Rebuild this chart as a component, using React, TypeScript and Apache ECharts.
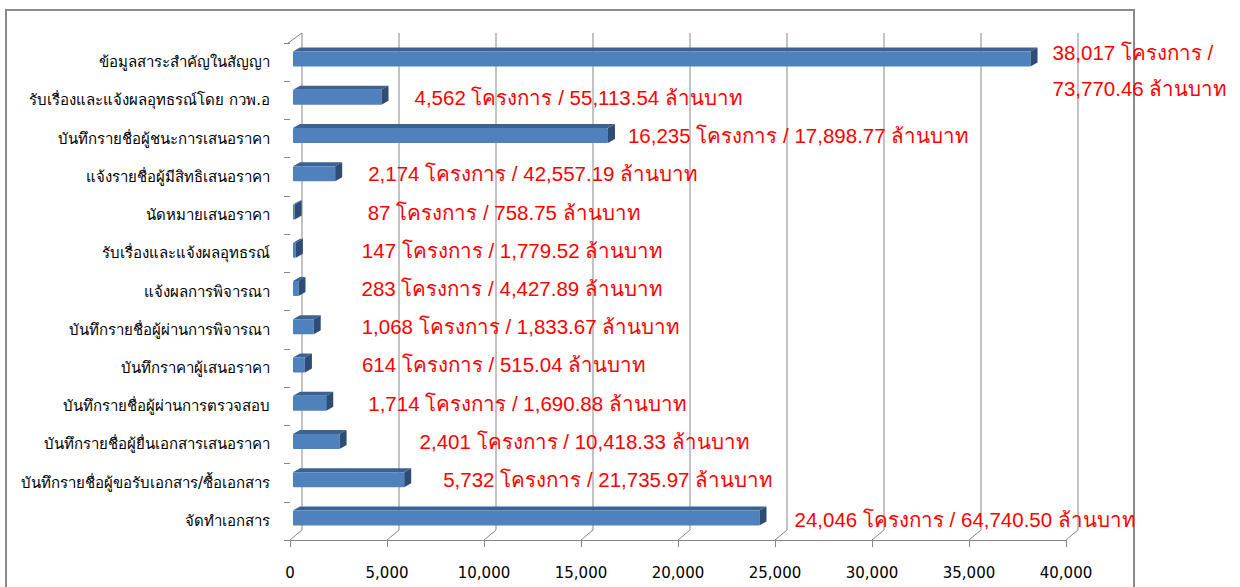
import React, { useEffect, useRef } from "react";
import * as echarts from "echarts";

const categories = [
  "ข้อมูลสาระสำคัญในสัญญา",
  "รับเรื่องและแจ้งผลอุทธรณ์โดย กวพ.อ",
  "บันทึกรายชื่อผู้ชนะการเสนอราคา",
  "แจ้งรายชื่อผู้มีสิทธิเสนอราคา",
  "นัดหมายเสนอราคา",
  "รับเรื่องและแจ้งผลอุทธรณ์",
  "แจ้งผลการพิจารณา",
  "บันทึกรายชื่อผู้ผ่านการพิจารณา",
  "บันทึกราคาผู้เสนอราคา",
  "บันทึกรายชื่อผู้ผ่านการตรวจสอบ",
  "บันทึกรายชื่อผู้ยื่นเอกสารเสนอราคา",
  "บันทึกรายชื่อผู้ขอรับเอกสาร/ซื้อเอกสาร",
  "จัดทำเอกสาร",
];

const projects = [38017, 4562, 16235, 2174, 87, 147, 283, 1068, 614, 1714, 2401, 5732, 24046];

const budgets = [
  73770.46, 55113.54, 17898.77, 42557.19, 758.75, 1779.52, 4427.89, 1833.67, 515.04,
  1690.88, 10418.33, 21735.97, 64740.5,
];

const valueTicks = [0, 5000, 10000, 15000, 20000, 25000, 30000, 35000, 40000];

// label layout (px gap after the bar end, vertical shift)
const LABEL_GAP = [15, 26, 13, 26, 66, 59, 56, 41, 50, 35, 73, 32, 28];
const LABEL_DY = [11, 0, 0, 0, 0, 0, 0, 0, 0, 0, 0, 0, 2];

const fmtInt = (v: number) => v.toLocaleString("en-US");
const fmt2 = (v: number) =>
  v.toLocaleString("en-US", { minimumFractionDigits: 2, maximumFractionDigits: 2 });

const FONT = 'Tahoma, "DejaVu Sans", "Noto Sans", sans-serif';
const LABEL_FONT = '"Liberation Sans", Arial, sans-serif';

export default function App() {
  const ref = useRef<HTMLDivElement>(null);

  useEffect(() => {
    document.body.style.margin = "0";
    if (!ref.current) return;
    const chart = echarts.init(ref.current, undefined, { renderer: "svg" });

    const DX = 12;
    const DY = 10;

    const option: any = {
      animation: false,
      backgroundColor: "#ffffff",
      graphic: [
        {
          type: "rect",
          shape: { x: 6, y: 10, width: 1128, height: 620 },
          style: { fill: "none", stroke: "#8a8a8a", lineWidth: 2 },
          silent: true,
        },
      ],
      grid: { left: 290, right: 174, top: 43, bottom: 47, containLabel: false },
      xAxis: {
        type: "value",
        min: 0,
        max: 40000,
        interval: 5000,
        splitLine: { show: false },
        axisLine: { show: true, lineStyle: { color: "#878787", width: 1 } },
        axisTick: { show: true, length: 7, lineStyle: { color: "#878787" } },
        axisLabel: {
          color: "#000",
          fontSize: 15,
          fontFamily: FONT,
          margin: 25,
          formatter: (v: number) => fmtInt(v),
        },
      },
      yAxis: {
        type: "category",
        inverse: true,
        data: categories,
        axisLine: { show: false },
        axisTick: { show: true, length: 6, lineStyle: { color: "#878787" } },
        axisLabel: { color: "#000", fontSize: 15, fontFamily: FONT, margin: 20 },
      },
      series: [
        {
          type: "custom",
          clip: false,
          z: 1,
          silent: true,
          encode: { x: 0 },
          data: valueTicks.map((v) => [v]),
          renderItem: (params: any, api: any) => {
            const cs = params.coordSys;
            const x = api.coord([api.value(0), 0])[0];
            const bottom = cs.y + cs.height;
            const children: any[] = [
              {
                type: "polyline",
                shape: {
                  points: [
                    [x, bottom],
                    [x + DX, bottom - DY],
                    [x + DX, cs.y - DY],
                  ],
                },
                style: { stroke: "#878787", lineWidth: 1, fill: "none" },
              },
            ];
            if (params.dataIndex === 0) {
              children.push({
                type: "line",
                shape: { x1: x - 2, y1: cs.y, x2: x + DX, y2: cs.y - DY },
                style: { stroke: "#878787", lineWidth: 1 },
              });
            }
            return { type: "group", children };
          },
        },
        {
          type: "custom",
          clip: false,
          z: 3,
          silent: true,
          encode: { x: 0, y: 1 },
          data: projects.map((v, i) => [v, i]),
          renderItem: (params: any, api: any) => {
            const i = params.dataIndex;
            const v = api.value(0);
            const c = api.value(1);
            const start = api.coord([0, c]);
            const end = api.coord([v, c]);
            const h = 15;
            const cy = start[1] - 3;
            const x0 = start[0] + 3;
            const x1 = Math.max(end[0] + 3, x0 + 0.6);
            const top = cy - h / 2;
            const bot = cy + h / 2;
            const dx = 7;
            const dy = 4;
            const label =
              i === 0
                ? `${fmtInt(projects[i])} โครงการ /\n${fmt2(budgets[i])} ล้านบาท`
                : `${fmtInt(projects[i])} โครงการ / ${fmt2(budgets[i])} ล้านบาท`;
            return {
              type: "group",
              children: [
                {
                  type: "polygon",
                  shape: {
                    points: [
                      [x0, top],
                      [x1, top],
                      [x1 + dx, top - dy],
                      [x0 + dx, top - dy],
                    ],
                  },
                  style: { fill: "#3b6293" },
                },
                {
                  type: "rect",
                  shape: { x: x0, y: top, width: x1 - x0, height: h, r: 1 },
                  style: { fill: "#4f81bd" },
                },
                {
                  type: "polygon",
                  shape: {
                    points: [
                      [x1, top],
                      [x1 + dx, top - dy],
                      [x1 + dx, bot - dy],
                      [x1, bot],
                    ],
                  },
                  style: { fill: "#2d4d77" },
                },
                {
                  type: "text",
                  x: x1 + dx + LABEL_GAP[i],
                  y: cy + LABEL_DY[i],
                  style: {
                    text: label,
                    fill: "#ff0000",
                    fontSize: 20.5,
                    fontFamily: LABEL_FONT,
                    lineHeight: 36,
                    align: "left",
                    verticalAlign: "middle",
                    textAlign: "left",
                    textVerticalAlign: "middle",
                  },
                },
              ],
            };
          },
        },
      ],
    };

    chart.setOption(option);
    return () => chart.dispose();
  }, []);

  return (
    <div
      ref={ref}
      style={{ position: "fixed", left: 0, top: 0, width: 1240, height: 587 }}
    />
  );
}
